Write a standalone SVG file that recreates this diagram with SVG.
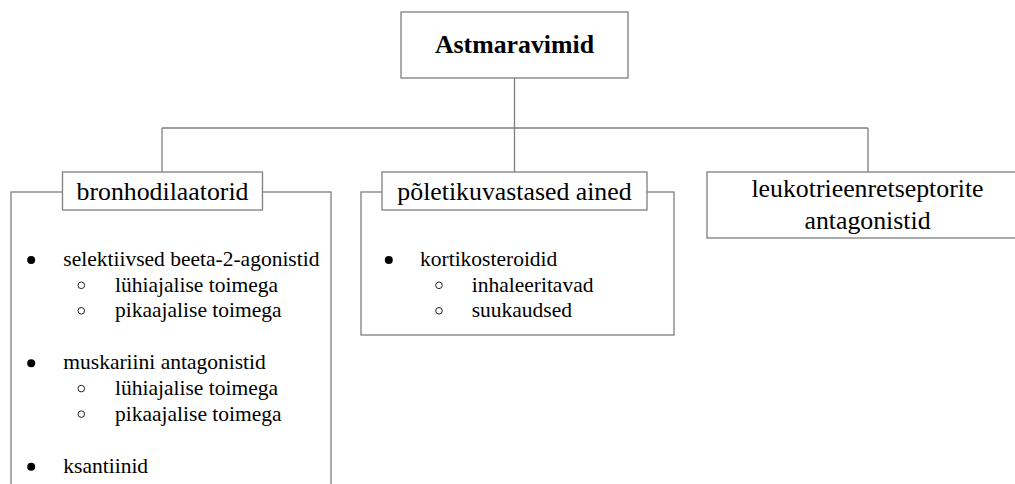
<svg xmlns="http://www.w3.org/2000/svg" width="1015" height="484" viewBox="0 0 1015 484">
<style>
.box{fill:#fff;stroke:#7f7f7f;stroke-width:1.3}
.frame{fill:none;stroke:#7f7f7f;stroke-width:1.3}
.conn{fill:none;stroke:#7f7f7f;stroke-width:1.3}
.h{font-family:"Liberation Serif","Times New Roman",serif;font-size:25.8px;fill:#000;text-anchor:middle}
.b{font-weight:bold}
.li{font-family:"Liberation Serif","Times New Roman",serif;font-size:21.5px;fill:#000}
.dot{fill:#000}
.ring{fill:none;stroke:#222;stroke-width:1}
</style>
<rect width="1015" height="484" fill="#fff"/>
<g id="connectors">
<path class="conn" d="M514.5,78 V128 M162,128 H868 M162,128 V172 M514.5,128 V172 M868,128 V172"/>
</g>
<g id="root">
<rect class="box" x="401" y="12" width="227" height="66"/>
<text class="h b" x="514.5" y="53">Astmaravimid</text>
</g>
<g id="bronhodilaatorid">
<rect class="frame" x="11" y="192" width="320" height="330"/>
<rect class="box" x="62.5" y="172" width="200" height="38"/>
<text class="h" x="162.5" y="200">bronhodilaatorid</text>
<circle class="dot" cx="31.2" cy="260" r="4"/>
<text class="li" x="63.3" y="266">selektiivsed beeta-2-agonistid</text>
<circle class="ring" cx="81.3" cy="285.3" r="3.3"/>
<text class="li" x="115" y="291.7">lühiajalise toimega</text>
<circle class="ring" cx="81.3" cy="310.8" r="3.3"/>
<text class="li" x="115" y="317.2">pikaajalise toimega</text>
<circle class="dot" cx="31.2" cy="363.3" r="4"/>
<text class="li" x="63.3" y="369.3">muskariini antagonistid</text>
<circle class="ring" cx="81.3" cy="388.6" r="3.3"/>
<text class="li" x="115" y="395">lühiajalise toimega</text>
<circle class="ring" cx="81.3" cy="414.1" r="3.3"/>
<text class="li" x="115" y="420.5">pikaajalise toimega</text>
<circle class="dot" cx="31.2" cy="466.7" r="4"/>
<text class="li" x="63.3" y="472.7">ksantiinid</text>
</g>
<g id="poletikuvastased">
<rect class="frame" x="361" y="192" width="313" height="143"/>
<rect class="box" x="382" y="172" width="265" height="38"/>
<text class="h" x="514.5" y="200">põletikuvastased ained</text>
<circle class="dot" cx="388.8" cy="260" r="4"/>
<text class="li" x="420" y="266">kortikosteroidid</text>
<circle class="ring" cx="439" cy="285.3" r="3.3"/>
<text class="li" x="471.7" y="291.7">inhaleeritavad</text>
<circle class="ring" cx="439" cy="310.8" r="3.3"/>
<text class="li" x="471.7" y="317.2">suukaudsed</text>
</g>
<g id="leukotrieen">
<rect class="box" x="707" y="172" width="322" height="66"/>
<text class="h" x="867.5" y="197.3">leukotrieenretseptorite</text>
<text class="h" x="867.5" y="229">antagonistid</text>
</g>
</svg>
